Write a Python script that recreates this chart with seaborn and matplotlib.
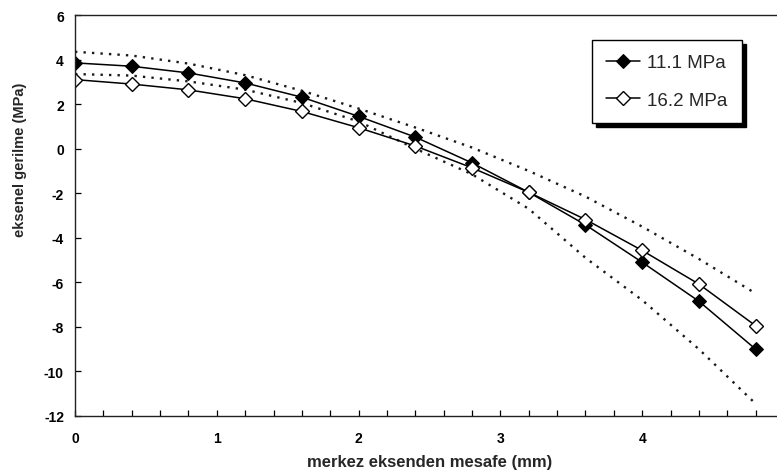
import matplotlib
matplotlib.use("Agg")
import matplotlib.pyplot as plt
import seaborn as sns
import numpy as np
import pandas as pd

# ---- data ----
x_mm = [0.0, 0.4, 0.8, 1.2, 1.6, 2.0, 2.4, 2.8, 3.2, 3.6, 4.0, 4.4, 4.8]
s_111 = [3.85, 3.70, 3.40, 2.95, 2.31, 1.45, 0.52, -0.64, -1.96, -3.42, -5.10, -6.85, -9.00]
s_162 = [3.10, 2.90, 2.64, 2.24, 1.67, 0.94, 0.12, -0.86, -1.96, -3.18, -4.57, -6.08, -7.95]
upper_dotted = [4.35, 4.18, 3.82, 3.30, 2.60, 1.80, 0.95, 0.05, -1.00, -2.15, -3.50, -4.95, -6.50]
lower_dotted = [3.35, 3.28, 3.02, 2.65, 2.05, 1.22, 0.00, -1.15, -2.70, -4.90, -6.80, -9.00, -11.45]
series_labels = ["11.1 MPa", "16.2 MPa"]
x_ticks = [0, 1, 2, 3, 4, 5]
y_ticks = [-12, -10, -8, -6, -4, -2, 0, 2, 4, 6]
x_label = "merkez eksenden mesafe (mm)"
y_label = "eksenel gerilme (MPa)"

sns.set_style("white")
plt.rcParams["font.family"] = ["Liberation Sans", "DejaVu Sans"]

W, H = 777, 477
fig = plt.figure(figsize=(W / 100, H / 100), dpi=100)
ax = fig.add_axes([75 / W, 60 / H, 709 / W, 401 / H])

df = pd.DataFrame({"x": x_mm, "a": s_111, "b": s_162,
                   "up": upper_dotted, "lo": lower_dotted})

dot_style = dict(color="#1a1a1a", linewidth=1.7, linestyle=(0, (1.0, 2.6)))
sns.lineplot(data=df, x="x", y="up", ax=ax, legend=False, **dot_style)
sns.lineplot(data=df, x="x", y="lo", ax=ax, legend=False, **dot_style)

sns.lineplot(data=df, x="x", y="a", ax=ax, color="black", linewidth=1.1,
             marker="D", markersize=6.8, markerfacecolor="black",
             markeredgecolor="black", label=series_labels[0])
sns.lineplot(data=df, x="x", y="b", ax=ax, color="black", linewidth=1.1,
             marker="D", markersize=6.8, markerfacecolor="white",
             markeredgecolor="black", markeredgewidth=1.0,
             label=series_labels[1])

ax.set_xlim(0, 5)
ax.set_ylim(-12, 6)
ax.set_xticks(x_ticks)
ax.set_xticks(np.arange(0, 5.01, 0.2), minor=True)
ax.set_yticks(y_ticks)
ax.set_xticklabels([str(t) for t in x_ticks], fontsize=10, fontweight="bold")
ax.set_yticklabels([str(t) for t in y_ticks], fontsize=10, fontweight="bold")
ax.tick_params(axis="x", which="both", direction="in", length=4, width=0.9,
               pad=11, bottom=True, top=False, colors="black")
ax.tick_params(axis="y", which="both", direction="in", length=4, width=0.9,
               pad=8, left=True, right=False, colors="black")

for side in ["left", "bottom", "top"]:
    ax.spines[side].set_visible(True)
    ax.spines[side].set_color("#222222")
    ax.spines[side].set_linewidth(1.0)
ax.spines["right"].set_visible(False)
ax.grid(False)

ax.set_xlabel(x_label, fontsize=12, fontweight="bold", labelpad=6)
ax.set_ylabel("")
fig.text(20 / W, 1 - 160 / H, y_label, rotation=90, fontsize=10.5,
         fontweight="bold", ha="center", va="center")

handles, labels = ax.get_legend_handles_labels()
leg = ax.legend(handles, labels, loc="upper left",
                bbox_to_anchor=(592 / W, 1 - 41 / H),
                bbox_transform=fig.transFigure,
                fontsize=13.5, frameon=True, fancybox=False,
                shadow={"ox": 3, "oy": -3, "shade": 1.0, "alpha": 1.0},
                handlelength=1.8, handletextpad=0.4, labelspacing=1.1,
                borderpad=0.75, borderaxespad=0)
leg.get_frame().set_edgecolor("black")
leg.get_frame().set_linewidth(1.0)

fig.savefig("out.png", dpi=100)
